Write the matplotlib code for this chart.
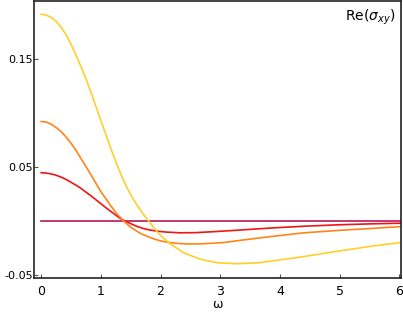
import numpy as np
import matplotlib.pyplot as plt

# values
w_yellow = [0, 0.084, 0.168, 0.25, 0.336, 0.42, 0.5, 0.587, 0.67, 0.755, 0.84, 0.92, 1.007,
            1.09, 1.174, 1.26, 1.35, 1.44, 1.53, 1.62, 1.71, 1.8, 1.9, 2.0, 2.16, 2.39, 2.67,
            2.95, 3.28, 3.62, 3.84, 4.4, 4.97, 5.52, 6.02]
s_yellow = [0.1912, 0.1905, 0.1883, 0.1847, 0.179, 0.172, 0.1635, 0.153, 0.1425, 0.131, 0.118,
            0.1055, 0.092, 0.079, 0.066, 0.0535, 0.0415, 0.0305, 0.0215, 0.0135, 0.0065, 0.0,
            -0.007, -0.0135, -0.021, -0.0295, -0.0355, -0.0387, -0.0396, -0.0388, -0.0373,
            -0.033, -0.028, -0.0235, -0.020]

w_orange = [0, 0.084, 0.168, 0.25, 0.336, 0.42, 0.5, 0.587, 0.67, 0.75, 0.82, 0.9, 0.99, 1.08,
            1.16, 1.27, 1.38, 1.5, 1.66, 1.88, 2.0, 2.15, 2.33, 2.5, 2.67, 2.85, 3.05, 3.4, 3.84,
            4.4, 4.97, 5.52, 6.02]
s_orange = [0.092, 0.0915, 0.0895, 0.0865, 0.0825, 0.0775, 0.072, 0.065, 0.0575, 0.0505, 0.044,
            0.0365, 0.028, 0.0208, 0.0145, 0.0065, 0.0, -0.0058, -0.0115, -0.0165, -0.0185,
            -0.020, -0.021, -0.0213, -0.0212, -0.0207, -0.020, -0.0175, -0.0145, -0.011,
            -0.0088, -0.007, -0.0053]

w_red = [0, 0.084, 0.168, 0.25, 0.336, 0.42, 0.5, 0.587, 0.67, 0.755, 0.84, 0.92, 1.0, 1.09,
         1.18, 1.26, 1.33, 1.4, 1.5, 1.59, 1.7, 1.81, 1.95, 2.09, 2.33, 2.6, 2.9, 3.17, 3.5,
         3.84, 4.4, 4.97, 5.52, 6.02]
s_red = [0.0446, 0.0443, 0.0435, 0.0423, 0.0405, 0.0383, 0.0358, 0.033, 0.030, 0.0265, 0.023,
         0.0195, 0.016, 0.012, 0.0083, 0.005, 0.0022, 0.0, -0.0025, -0.0047, -0.0068, -0.0083,
         -0.0095, -0.0103, -0.011, -0.0108, -0.0099, -0.009, -0.0078, -0.0066, -0.0049,
         -0.0036, -0.0027, -0.0021]

w_magenta = [0, 6.02]
s_magenta = [0.0, 0.0]

fig = plt.figure(figsize=(4.03, 3.19), dpi=100)
ax = fig.add_axes([34/403, 1 - 278/319, 367/403, 277/319])

ax.plot(w_magenta, s_magenta, color='#b8185c', lw=1.2)
ax.plot(w_red, s_red, color='#f01414', lw=1.2)
ax.plot(w_orange, s_orange, color='#ff8419', lw=1.2)
ax.plot(w_yellow, s_yellow, color='#ffd02a', lw=1.2)

ax.set_xlim(-0.12, 6.03)
ax.set_ylim(-0.0528, 0.2035)
ax.set_xticks([0, 1, 2, 3, 4, 5, 6])
ax.set_yticks([0.15, 0.05, -0.05])
ax.set_yticklabels(['0.15', '0.05', '-0.05'])
ax.tick_params(axis='x', direction='in', length=3, labelsize=9, pad=5, color='#555555')
ax.tick_params(axis='y', direction='in', length=3, labelsize=8, pad=1, color='#555555')
for sp in ax.spines.values():
    sp.set_linewidth(1.2)
    sp.set_color('#222222')

ax.set_xlabel('ω', fontsize=9, labelpad=0)
ax.text(0.985, 0.975, r'Re($\sigma_{xy}$)', transform=ax.transAxes, ha='right', va='top', fontsize=10)

fig.savefig('out.png', dpi=100)
